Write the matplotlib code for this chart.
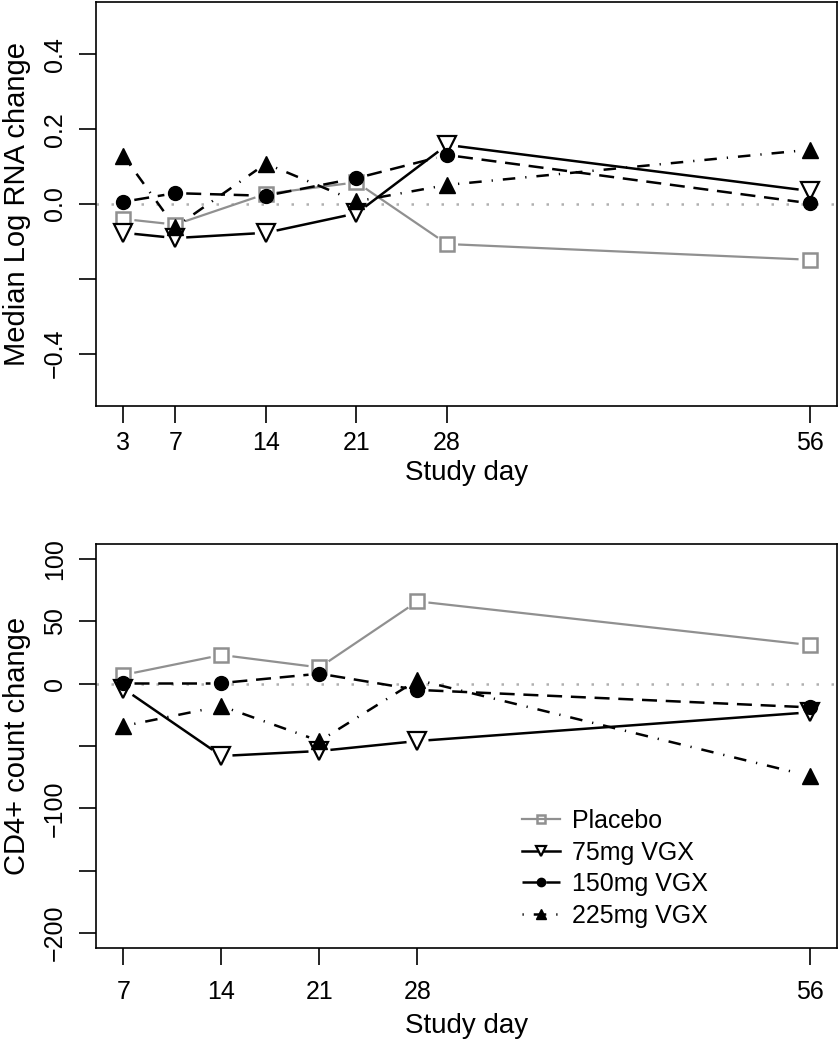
import numpy as np
import matplotlib
matplotlib.use("Agg")
import matplotlib.pyplot as plt
from matplotlib.lines import Line2D

plt.rcParams['font.family'] = ['Liberation Sans', 'DejaVu Sans']

# top panel: median log RNA change
rna_days = [3, 7, 14, 21, 28, 56]
rna_placebo = [-0.04, -0.055, 0.027, 0.058, -0.107, -0.149]
rna_75 = [-0.077, -0.091, -0.077, -0.025, 0.158, 0.035]
rna_150 = [0.006, 0.029, 0.022, 0.069, 0.131, 0.002]
rna_225 = [0.129, -0.062, 0.108, 0.007, 0.051, 0.145]

# bottom panel: CD4+ count change
cd4_days = [7, 14, 21, 28, 56]
cd4_placebo = [7, 23, 13, 66, 31]
cd4_75 = [-4, -58, -54, -46, -23]
cd4_150 = [0.5, 0.5, 8, -5, -19]
cd4_225 = [-34, -18, -46, 3, -74]

labels = ['Placebo', '75mg VGX', '150mg VGX', '225mg VGX']
styles = [
    dict(color='#909090', ls='-', lw=1.6, marker='s', mfc='none', mec='#909090', ms=10, mew=1.8),
    dict(color='black', ls='-', lw=1.8, marker='v', mfc='white', mec='black', ms=13, mew=1.6),
    dict(color='black', ls=(0, (6, 3.5)), lw=1.8, marker='o', mfc='black', mec='black', ms=10, mew=1),
    dict(color='black', ls=(0, (0.5, 4, 5, 4)), lw=1.8, marker='^', mfc='black', mec='black', ms=12, mew=1),
]

fig = plt.figure(figsize=(8.39, 10.5), dpi=100)
W, H = 839, 1050
ax1 = fig.add_axes([96 / W, 1 - 406 / H, 741 / W, 404 / H])
ax2 = fig.add_axes([96 / W, 1 - 948 / H, 741 / W, 404 / H])

GAP = 11  # pixels of gap around each point (R type="b")


def draw_series(ax, x, y, st):
    pts = ax.transData.transform(np.column_stack([x, y]))
    inv = ax.transData.inverted()
    line_kw = dict(color=st['color'], ls=st['ls'], lw=st['lw'], solid_capstyle='butt',
                   dash_capstyle='butt', zorder=2)
    for p0, p1 in zip(pts[:-1], pts[1:]):
        d = p1 - p0
        L = np.hypot(*d)
        if L <= 2 * GAP:
            continue
        u = d / L
        a = inv.transform(p0 + u * GAP)
        b = inv.transform(p1 - u * GAP)
        ax.plot([a[0], b[0]], [a[1], b[1]], **line_kw)
    ax.plot(x, y, ls='none', marker=st['marker'], mfc=st['mfc'], mec=st['mec'],
            ms=st['ms'], mew=st['mew'], zorder=3)


def setup(ax, days, xlim, ylim, yticks, ylabels, ylab, xlab_y, xpad):
    ax.set_xlim(*xlim)
    ax.set_ylim(*ylim)
    ax.set_xticks(days)
    ax.set_xticklabels([str(d) for d in days])
    ax.set_yticks(yticks)
    ax.set_yticklabels(ylabels, rotation=90, va='center')
    ax.tick_params(direction='out', length=12, width=1.2, labelsize=18)
    ax.tick_params(axis='x', pad=xpad)
    ax.tick_params(axis='y', pad=9)
    for s in ax.spines.values():
        s.set_linewidth(1.2)
    ax.set_xlabel('Study day', fontsize=20)
    ax.xaxis.set_label_coords(0.5, xlab_y)
    ax.set_ylabel(ylab, fontsize=21)
    ax.yaxis.set_label_coords(-0.088, 0.5)
    ax.axhline(0, color='#b0b0b0', ls=(0, (1, 5)), lw=1.8, zorder=1)


setup(ax1, rna_days, (0.88, 58.12), (-0.54, 0.54),
      [-0.4, -0.2, 0.0, 0.2, 0.4], ['\u22120.4', '', '0.0', '0.2', '0.4'],
      'Median Log RNA change', -0.134, 6)
setup(ax2, cd4_days, (5.04, 57.96), (-212, 112),
      [-200, -150, -100, -50, 0, 50, 100], ['\u2212200', '', '\u2212100', '', '0', '50', '100'],
      'CD4+ count change', -0.162, 11)

for vals, st in zip([rna_placebo, rna_75, rna_150, rna_225], styles):
    draw_series(ax1, rna_days, vals, st)
for vals, st in zip([cd4_placebo, cd4_75, cd4_150, cd4_225], styles):
    draw_series(ax2, cd4_days, vals, st)

handles = []
for st in styles:
    handles.append(Line2D([], [], color=st['color'], ls=st['ls'], lw=st['lw'],
                          marker=st['marker'], mfc=st['mfc'], mec=st['mec'],
                          ms=st['ms'] * 0.6, mew=st['mew']))
ax2.legend(handles, labels, loc='center left', bbox_to_anchor=(0.575, 0.197),
           frameon=False, fontsize=18, handlelength=1.5, handletextpad=0.5,
           labelspacing=0.3, borderpad=0, borderaxespad=0)

fig.savefig('out.png', dpi=100)
